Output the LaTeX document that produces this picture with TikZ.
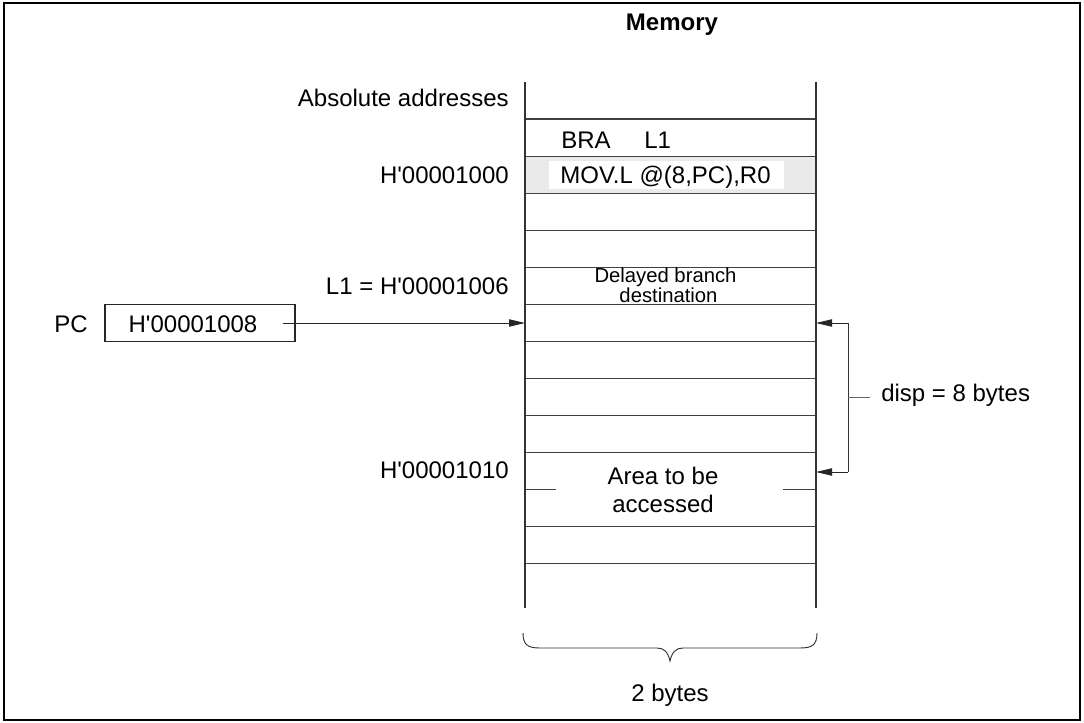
\documentclass[tikz,border=0pt]{standalone}
\usepackage{fontspec}
\setmainfont{Liberation Sans}
\usetikzlibrary{arrows.meta}
\definecolor{rowgray}{HTML}{EAEAEA}
\newcommand{\apos}{\textquotesingle}
\tikzset{
  txt/.style={font=\fontsize{18pt}{21pt}\selectfont, inner sep=0pt},
  smalltxt/.style={font=\fontsize{15.2pt}{18pt}\selectfont, inner sep=0pt},
  boldtxt/.style={font=\fontsize{18pt}{21pt}\selectfont\bfseries, inner sep=0pt},
  lbl/.style={txt, anchor=base east},
  memline/.style={draw=black!75, line width=0.8pt},
  colline/.style={draw=black!80, line width=1pt},
  arr/.style={-{Triangle[length=12pt,width=5.5pt]}, line width=0.7pt, draw=black!85},
  thin/.style={draw=black!80, line width=0.7pt},
}
\begin{document}
\begin{tikzpicture}[x=0.75pt,y=-0.75pt]
\useasboundingbox (0,0) rectangle (1084,723);
% outer frame
\draw[line width=1.5pt] (4,3.5) rectangle (1080,719.5);

% shaded row
\fill[rowgray] (525,156.05) rectangle (816,193.1);
\node[fill=white, minimum width=176.25pt, minimum height=21.5pt, inner sep=0pt] (movbg) at (666.5,175) {};

% row lines
\foreach \k in {0,...,9,11,12} {
  \draw[memline] (525,{119+37.05*\k}) -- (816,{119+37.05*\k});
}
\draw[memline] (525,489.5) -- (556,489.5);
\draw[memline] (783,489.5) -- (816,489.5);

% column lines
\draw[colline] (525,82) -- (525,608);
\draw[colline] (816,82) -- (816,608);

% title
\node[boldtxt, anchor=base] (title) at (672,31) {Memory};

% left labels
\node[lbl] (abs) at (509,107) {Absolute addresses};
\node[lbl] (a1000) at (509,184) {H\apos00001000};
\node[lbl] (l1lbl) at (509,295) {L1 = H\apos00001006};
\node[lbl] (a1010) at (509,478) {H\apos00001010};

% memory contents
\node[txt, anchor=base west] (bra) at (561,149) {BRA};
\node[txt, anchor=base west] (bral1) at (644,149) {L1};
\node[txt, anchor=base] (mov) at (665.5,184) {MOV.L @(8,PC),R0};
\node[smalltxt, anchor=base] (del1) at (665.5,283) {Delayed branch};
\node[smalltxt, anchor=base] (del2) at (668.5,302.5) {destination};
\node[txt, anchor=base] (area1) at (663,484) {Area to be};
\node[txt, anchor=base] (area2) at (663,512.3) {accessed};

% PC register
\node[txt, anchor=base west] (pc) at (54,332) {PC};
\node[draw=black!85, line width=0.8pt, minimum width=142.5pt, minimum height=27.75pt, inner sep=0pt] (pcbox) at (200,323) {};
\node[txt, anchor=base] (pcval) at (193,332) {H\apos00001008};
\coordinate (pcin) at (525,323);
\draw[arr] ([xshift=-9.75pt]pcbox.east) -- (pcin);

% displacement bracket
\coordinate (d1) at (816,323);
\coordinate (d2) at (816,472);
\coordinate (b1) at (848,323);
\coordinate (b2) at (848,472);
\draw[thin] (b1) -- (b2);
\draw[arr] (b1) -- (d1);
\draw[arr] (b2) -- (d2);
\coordinate (tk) at (848,397.5);
\node[txt, anchor=base west] (disp) at (881,401.7) {disp = 8 bytes};
\draw[draw=black!60, line width=0.7pt] (tk) -- (870,397.5);

% brace
\coordinate (brL) at (523,633);
\coordinate (brR) at (817,633);
\draw[thin] (brL) .. controls (523,645) and (528,648) .. (540,648) -- (657,648)
  .. controls (664,648) and (668,652) .. (670,661)
  .. controls (672,652) and (676,648) .. (683,648) -- (800,648)
  .. controls (812,648) and (817,645) .. (brR);
\node[txt, anchor=base] (bytes) at (670,701.7) {2 bytes};
\end{tikzpicture}
\end{document}
